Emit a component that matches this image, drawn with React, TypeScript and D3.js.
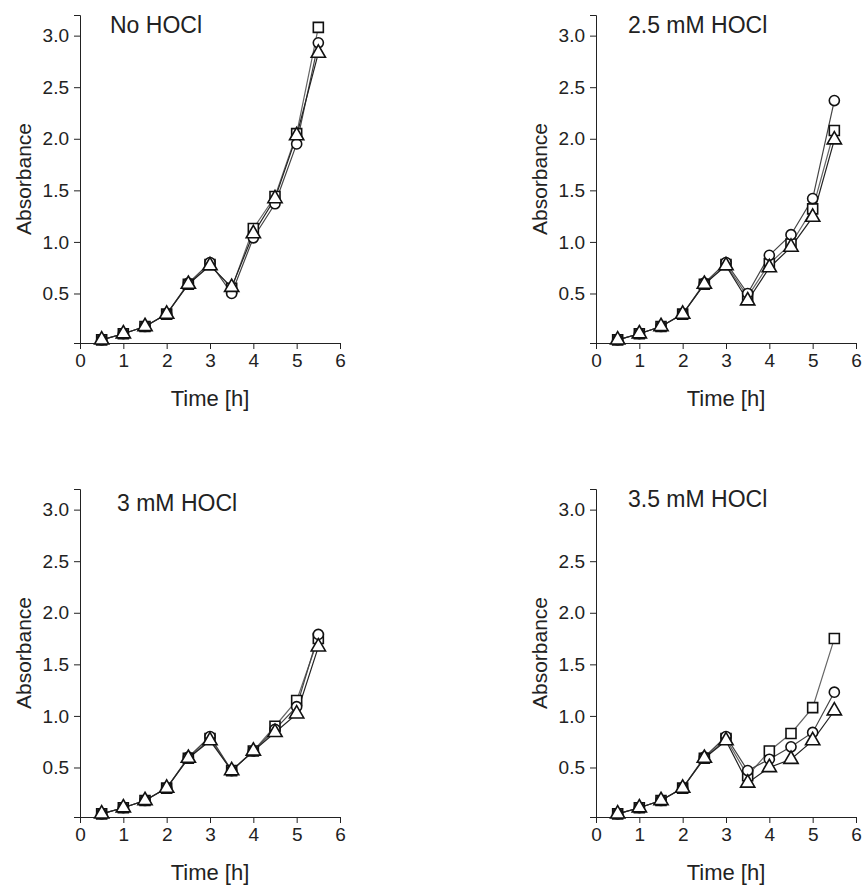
import React, { useEffect, useRef } from 'react'
import * as d3 from 'd3'

// sampling times (h)
const times = [0.5, 1, 1.5, 2, 2.5, 3, 3.5, 4, 4.5, 5, 5.5]

const panelTitles = ['No HOCl', '2.5 mM HOCl', '3 mM HOCl', '3.5 mM HOCl']

// absorbance per panel, three replicates each (square, circle, triangle)
const noHoclSquare = [0.05, 0.11, 0.18, 0.3, 0.59, 0.78, 0.55, 1.13, 1.44, 2.05, 3.08]
const noHoclCircle = [0.05, 0.11, 0.18, 0.3, 0.6, 0.8, 0.5, 1.04, 1.37, 1.95, 2.93]
const noHoclTriangle = [0.05, 0.11, 0.18, 0.3, 0.59, 0.77, 0.56, 1.08, 1.42, 2.03, 2.83]

const hocl25Square = [0.05, 0.11, 0.18, 0.3, 0.59, 0.78, 0.47, 0.79, 0.98, 1.32, 2.08]
const hocl25Circle = [0.05, 0.11, 0.18, 0.3, 0.6, 0.8, 0.5, 0.87, 1.07, 1.42, 2.37]
const hocl25Triangle = [0.05, 0.11, 0.18, 0.3, 0.59, 0.77, 0.43, 0.75, 0.95, 1.24, 1.99]

const hocl3Square = [0.05, 0.11, 0.18, 0.3, 0.59, 0.78, 0.47, 0.66, 0.9, 1.15, 1.75]
const hocl3Circle = [0.05, 0.11, 0.18, 0.3, 0.6, 0.8, 0.47, 0.66, 0.87, 1.09, 1.79]
const hocl3Triangle = [0.05, 0.11, 0.18, 0.3, 0.59, 0.76, 0.47, 0.66, 0.84, 1.02, 1.67]

const hocl35Square = [0.05, 0.11, 0.18, 0.3, 0.59, 0.78, 0.42, 0.66, 0.83, 1.08, 1.75]
const hocl35Circle = [0.05, 0.11, 0.18, 0.3, 0.6, 0.8, 0.47, 0.58, 0.7, 0.84, 1.23]
const hocl35Triangle = [0.05, 0.11, 0.18, 0.3, 0.59, 0.76, 0.35, 0.5, 0.58, 0.76, 1.05]

const xTicks = [0, 1, 2, 3, 4, 5, 6]
const yTicks = [0.5, 1.0, 1.5, 2.0, 2.5, 3.0]

const panelData = [
  [noHoclSquare, noHoclCircle, noHoclTriangle],
  [hocl25Square, hocl25Circle, hocl25Triangle],
  [hocl3Square, hocl3Circle, hocl3Triangle],
  [hocl35Square, hocl35Circle, hocl35Triangle]
]

const FONT = "'Liberation Sans', Arial, sans-serif"

export default function App() {
  const ref = useRef<SVGSVGElement>(null)

  useEffect(() => {
    const svg = d3.select(ref.current)
    svg.selectAll('*').remove()

    const plotW = 260
    const plotH = 328
    // left/top of each plot area
    const origins = [[80, 15], [596, 15], [80, 489], [596, 489]]
    const titleOffsets = [[30, 18], [32, 18], [37, 22], [32, 18]]

    const symbols = [
      d3.symbol().type(d3.symbolSquare).size(100),
      d3.symbol().type(d3.symbolCircle).size(80),
      d3.symbol().type(d3.symbolTriangle).size(88)
    ]
    const lineColors = ['#666', '#444', '#222']

    panelData.forEach((series, p) => {
      const [ox, oy] = origins[p]
      const g = svg.append('g').attr('transform', 'translate(' + ox + ',' + oy + ')')

      const x = d3.scaleLinear().domain([0, 6]).range([0, plotW])
      const y = d3.scaleLinear().domain([0.02, 3.2]).range([plotH, 0])

      const xAxis = g.append('g')
        .attr('transform', 'translate(0,' + plotH + ')')
        .call(d3.axisBottom(x).tickValues(xTicks).tickSizeOuter(0).tickSize(6).tickPadding(5).tickFormat(d3.format('d')))
      const yAxis = g.append('g')
        .call(d3.axisLeft(y).tickValues(yTicks).tickSizeOuter(0).tickSize(6).tickPadding(5).tickFormat(d3.format('.1f')))

      ;[xAxis, yAxis].forEach(a => {
        a.selectAll('path,line').attr('stroke', '#222').attr('stroke-width', 1)
        a.selectAll('text').attr('font-family', FONT).attr('font-size', 19).attr('fill', '#222')
      })

      g.append('text')
        .attr('x', plotW / 2)
        .attr('y', plotH + 63)
        .attr('text-anchor', 'middle')
        .attr('font-family', FONT)
        .attr('font-size', 22)
        .attr('fill', '#222')
        .text('Time [h]')

      g.append('text')
        .attr('transform', 'translate(-49,' + (plotH / 2) + ') rotate(-90)')
        .attr('text-anchor', 'middle')
        .attr('font-family', FONT)
        .attr('font-size', 21)
        .attr('fill', '#222')
        .text('Absorbance')

      g.append('text')
        .attr('x', titleOffsets[p][0])
        .attr('y', titleOffsets[p][1])
        .attr('font-family', FONT)
        .attr('font-size', 23)
        .attr('fill', '#222')
        .text(panelTitles[p])

      const line = d3.line<number>()
        .x((d, i) => x(times[i]))
        .y(d => y(d))

      series.forEach((vals, s) => {
        g.append('path')
          .attr('d', line(vals))
          .attr('fill', 'none')
          .attr('stroke', lineColors[s])
          .attr('stroke-width', 1.2)
      })

      series.forEach((vals, s) => {
        g.selectAll(null)
          .data(vals)
          .enter().append('path')
          .attr('d', symbols[s]() as string)
          .attr('transform', (d, i) => 'translate(' + x(times[i]) + ',' + y(d) + ')')
          .attr('fill', 'white')
          .attr('stroke', '#111')
          .attr('stroke-width', 1.6)
      })
    })
  }, [])

  return (
    <svg ref={ref} width={864} height={886}
      style={{ position: 'absolute', left: 0, top: 0, background: 'white' }} />
  )
}
